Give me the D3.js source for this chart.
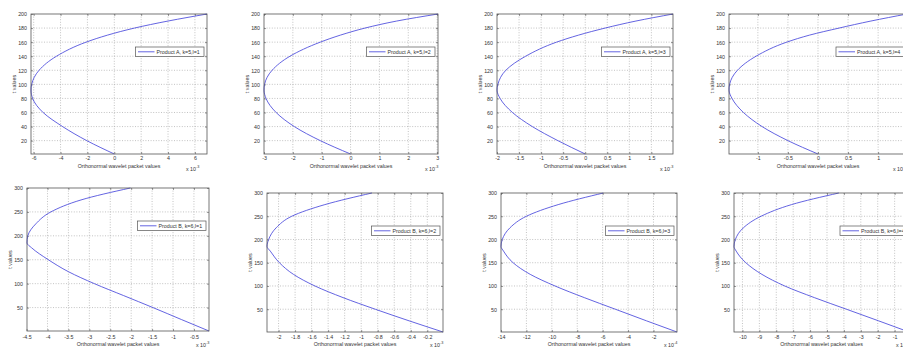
<!DOCTYPE html>
<html>
<head>
<meta charset="utf-8">
<script src="https://cdn.jsdelivr.net/npm/d3@7"></script>
<style>
  html, body { margin: 0; padding: 0; background: #fff; }
  svg { display: block; font-family: "Liberation Sans", Arial, sans-serif; }
</style>
</head>
<body>
<script>
// ---------------- DATA ----------------
const tA = [1, 20, 40, 60, 80, 92, 100, 120, 140, 160, 170, 180, 190, 200];
const tB = [1, 25, 50, 75, 100, 125, 150, 175, 185, 200, 225, 250, 275, 300];

const valuesA1 = [0, -2.05, -3.85, -5.3, -6.08, -6.2, -6.15, -5.6, -4.3, -2.1, -0.5, 1.5, 4.0, 6.9];
const valuesA2 = [0, -1.05, -1.95, -2.58, -2.93, -3.0, -2.98, -2.72, -2.1, -1.05, -0.35, 0.5, 1.6, 3.03];
const valuesA3 = [0, -0.62, -1.2, -1.65, -1.93, -2.0, -1.98, -1.8, -1.35, -0.65, -0.15, 0.45, 1.15, 1.99];
const valuesA4 = [0, -0.5, -0.93, -1.24, -1.43, -1.48, -1.47, -1.34, -1.03, -0.52, -0.14, 0.35, 0.88, 1.48];

const valuesB1 = [-0.14, -0.8, -1.48, -2.18, -2.88, -3.5, -3.98, -4.38, -4.49, -4.47, -4.28, -3.92, -3.2, -2.02];
const valuesB2 = [-0.01, -0.42, -0.83, -1.22, -1.56, -1.82, -1.99, -2.1, -2.14, -2.12, -2.03, -1.84, -1.44, -0.87];
const valuesB3 = [-0.15, -2.55, -5.0, -7.45, -9.75, -11.7, -13.05, -13.8, -14.0, -13.9, -13.3, -12.0, -9.5, -5.95];
const valuesB4 = [-0.15, -1.95, -3.85, -5.75, -7.5, -8.85, -9.8, -10.37, -10.5, -10.42, -9.95, -8.9, -7.1, -4.3];

const legendLabels = [
  "Product A, k=5,l=1", "Product A, k=5,l=2", "Product A, k=5,l=3", "Product A, k=5,l=4",
  "Product B, k=6,l=1", "Product B, k=6,l=2", "Product B, k=6,l=3", "Product B, k=6,l=4"
];

const xTicksA1 = [-6, -4, -2, 0, 2, 4, 6];
const xTicksA2 = [-3, -2, -1, 0, 1, 2, 3];
const xTicksA3 = [-2, -1.5, -1, -0.5, 0, 0.5, 1, 1.5];
const xTicksA4 = [-1, -0.5, 0, 0.5, 1];
const xTicksB1 = [-4.5, -4, -3.5, -3, -2.5, -2, -1.5, -1, -0.5];
const xTicksB2 = [-2, -1.8, -1.6, -1.4, -1.2, -1, -0.8, -0.6, -0.4, -0.2];
const xTicksB3 = [-14, -12, -10, -8, -6, -4, -2];
const xTicksB4 = [-10, -9, -8, -7, -6, -5, -4, -3, -2, -1];

const yTicksA = [20, 40, 60, 80, 100, 120, 140, 160, 180, 200];
const yTicksB = [50, 100, 150, 200, 250, 300];

const exponents = ["-3", "-3", "-3", "-3", "-3", "-3", "-4", "-4"];

const xLabelText = "Orthonormal wavelet packet values";
const yLabelText = "t values";

// ---------------- LAYOUT ----------------
const W = 903, H = 348;
const boxes = [
  {l: 31,  r: 207, t: 14,  b: 154, ex: 21},
  {l: 264, r: 438, t: 14,  b: 154, ex: 13},
  {l: 497, r: 673, t: 14,  b: 154, ex: 13},
  {l: 729, r: 907, t: 14,  b: 154, ex: 14},
  {l: 27,  r: 209, t: 188, b: 331, ex: 13},
  {l: 267, r: 443, t: 193, b: 332, ex: 13},
  {l: 501, r: 677, t: 193, b: 332, ex: 13},
  {l: 734, r: 909, t: 193, b: 332, ex: 13}
];
const rowText = [
  {tick: 159.5, xlab: 167.6, exp: 171},
  {tick: 338.6, xlab: 345.6, exp: 347.2}
];

const panels = [
  {t: tA, v: valuesA1, xt: xTicksA1, yt: yTicksA},
  {t: tA, v: valuesA2, xt: xTicksA2, yt: yTicksA},
  {t: tA, v: valuesA3, xt: xTicksA3, yt: yTicksA},
  {t: tA, v: valuesA4, xt: xTicksA4, yt: yTicksA},
  {t: tB, v: valuesB1, xt: xTicksB1, yt: yTicksB},
  {t: tB, v: valuesB2, xt: xTicksB2, yt: yTicksB},
  {t: tB, v: valuesB3, xt: xTicksB3, yt: yTicksB},
  {t: tB, v: valuesB4, xt: xTicksB4, yt: yTicksB}
];

const FS = 5.3;
const TEXT = "#333";
const FRAME = "#555";
const LINE = "#4848dc";

const svg = d3.select("body").append("svg")
  .attr("width", W).attr("height", H)
  .attr("viewBox", `0 0 ${W} ${H}`);

svg.append("rect").attr("width", W).attr("height", H).attr("fill", "#fff");

const fmt = v => String(+v.toFixed(4));

panels.forEach((p, i) => {
  const bx = boxes[i];
  const row = i < 4 ? 0 : 1;
  const rt = rowText[row];

  const x = d3.scaleLinear().domain(d3.extent(p.v)).range([bx.l, bx.r]);
  const y = d3.scaleLinear().domain(d3.extent(p.t)).range([bx.b, bx.t]);

  const g = svg.append("g");

  g.append("rect").attr("x", bx.l).attr("y", bx.t)
    .attr("width", bx.r - bx.l).attr("height", bx.b - bx.t).attr("fill", "#fff");

  // dotted grid
  const grid = g.append("g").attr("stroke", "#9a9a9a").attr("stroke-width", 0.6)
    .attr("stroke-dasharray", "1,1.6").attr("fill", "none");
  p.xt.forEach(v => {
    const px = x(v);
    if (px > bx.l + 0.5 && px < bx.r - 0.5)
      grid.append("line").attr("x1", px).attr("x2", px).attr("y1", bx.t).attr("y2", bx.b);
  });
  p.yt.forEach(v => {
    const py = y(v);
    if (py > bx.t + 0.5 && py < bx.b - 0.5)
      grid.append("line").attr("x1", bx.l).attr("x2", bx.r).attr("y1", py).attr("y2", py);
  });

  const xAxis = d3.axisBottom(x).tickValues(p.xt).tickSizeInner(-2).tickSizeOuter(0)
    .tickPadding(3.6).tickFormat(fmt);
  const yAxis = d3.axisLeft(y).tickValues(p.yt).tickSizeInner(-2).tickSizeOuter(0)
    .tickPadding(4).tickFormat(fmt);
  const xTop = d3.axisTop(x).tickValues(p.xt).tickSizeInner(-2).tickSizeOuter(0).tickFormat("");
  const yRight = d3.axisRight(y).tickValues(p.yt).tickSizeInner(-2).tickSizeOuter(0).tickFormat("");

  const gx = g.append("g").attr("transform", `translate(0,${bx.b})`).call(xAxis);
  const gy = g.append("g").attr("transform", `translate(${bx.l},0)`).call(yAxis);
  const gxt = g.append("g").attr("transform", `translate(0,${bx.t})`).call(xTop);
  const gyr = g.append("g").attr("transform", `translate(${bx.r},0)`).call(yRight);

  [gx, gy, gxt, gyr].forEach(a => {
    a.select(".domain").remove();
    a.selectAll(".tick line").attr("stroke", FRAME).attr("stroke-width", 0.6);
    a.selectAll(".tick text").attr("fill", TEXT).style("font-size", FS + "px")
      .style("font-family", '"Liberation Sans", Arial, sans-serif');
  });
  gx.selectAll(".tick text").attr("dy", null).attr("y", null)
    .attr("transform", `translate(0,${rt.tick - bx.b})`);
  gy.selectAll(".tick text").attr("dy", "0.35em");

  // curve
  const pts = p.t.map((t, k) => ({t, v: p.v[k]}));
  const line = d3.line().x(d => x(d.v)).y(d => y(d.t)).curve(d3.curveMonotoneY);
  g.append("path").datum(pts).attr("d", line)
    .attr("fill", "none").attr("stroke", LINE).attr("stroke-width", 0.85);

  // frame
  g.append("rect").attr("x", bx.l).attr("y", bx.t)
    .attr("width", bx.r - bx.l).attr("height", bx.b - bx.t)
    .attr("fill", "none").attr("stroke", FRAME).attr("stroke-width", 0.8);

  // legend
  const lgW = 68.5, lgH = 9.6;
  const lgX = (i % 4 === 3) ? bx.l + (i === 3 ? 107 : 106) : bx.r - 3 - lgW;
  const lgY = bx.t + 33;
  const lg = g.append("g").attr("transform", `translate(${lgX},${lgY})`);
  lg.append("rect").attr("width", lgW).attr("height", lgH)
    .attr("fill", "#fff").attr("stroke", FRAME).attr("stroke-width", 0.7);
  lg.append("line").attr("x1", 2.5).attr("x2", 19).attr("y1", lgH / 2).attr("y2", lgH / 2)
    .attr("stroke", LINE).attr("stroke-width", 0.85);
  lg.append("text").attr("x", 21).attr("y", lgH / 2).attr("dy", "0.35em")
    .attr("fill", TEXT).style("font-size", FS + "px").text(legendLabels[i]);

  // x label
  g.append("text").attr("x", (bx.l + bx.r) / 2).attr("y", rt.xlab)
    .attr("text-anchor", "middle").attr("fill", TEXT).style("font-size", FS + "px")
    .text(xLabelText);

  // exponent label
  const ex = g.append("text").attr("x", bx.r - bx.ex).attr("y", rt.exp)
    .attr("fill", TEXT).style("font-size", FS + "px");
  ex.append("tspan").text("x 10");
  ex.append("tspan").attr("dy", -3).style("font-size", "3.8px").text(exponents[i]);

  // y label
  const ylx = bx.l - 17, yly = (bx.t + bx.b) / 2;
  g.append("text").attr("transform", `translate(${ylx},${yly}) rotate(-90)`)
    .attr("text-anchor", "middle").attr("dy", "0.35em")
    .attr("fill", TEXT).style("font-size", FS + "px").text(yLabelText);
});
</script>
</body>
</html>
